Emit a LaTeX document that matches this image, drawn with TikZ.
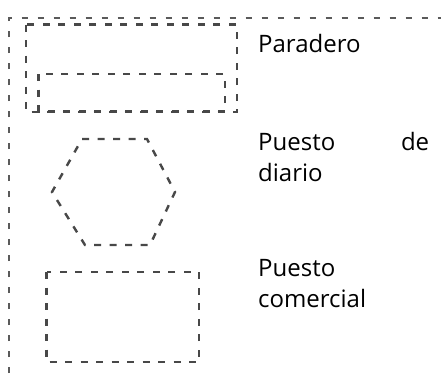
\documentclass[tikz,border=0pt]{standalone}
\usepackage{fontspec}
\setmainfont{Open Sans}
\definecolor{dashgray}{HTML}{484848}
\definecolor{framegray}{HTML}{5A5A5A}
\begin{document}
\begin{tikzpicture}[x=1pt,y=-1pt,
  shapeline/.style={draw=dashgray, line width=2.4pt, dash pattern=on 7pt off 8.5pt},
  frameline/.style={draw=framegray, line width=1.7pt, dash pattern=on 6.5pt off 9.5pt},
  legendtext/.style={inner sep=0pt, font=\fontsize{24}{31.5}\selectfont, text=black}]
\useasboundingbox (0,0) rectangle (441,381);
% outer frame
\draw[frameline] (9,373) -- (9,17.7) -- (441,17.7);
% Paradero
\draw[shapeline] (26,24.5) rectangle (237,112);
\draw[shapeline] (38.5,74) rectangle (225,111.5);
\node[legendtext, anchor=base west] (paradero) at (258,52.7) {Paradero};
% Puesto de diario
\draw[shapeline] (82,139) -- (147,139) -- (175,192) -- (150,245) -- (85,245) -- (52,192) -- cycle;
\node[legendtext, anchor=base west, text width=171pt, align=left] (diario) at (258,150) {Puesto\hfill de\\diario};
% Puesto comercial
\draw[shapeline] (46.5,272) rectangle (199,362);
\node[legendtext, anchor=base west, text width=120pt, align=left] (comercial) at (258,276) {Puesto\\comercial};
\end{tikzpicture}
\end{document}
